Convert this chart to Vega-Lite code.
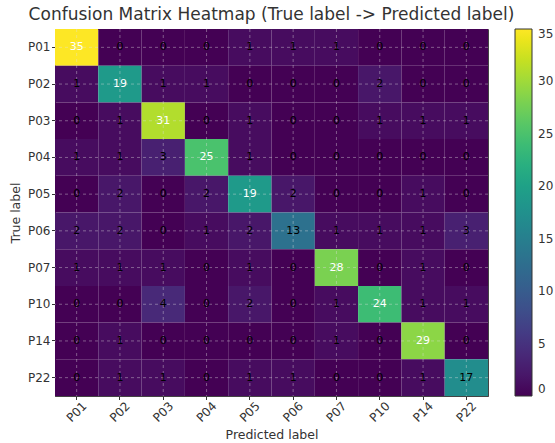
{
  "$schema": "https://vega.github.io/schema/vega-lite/v6.json",
  "autosize": "none",
  "width": 433,
  "height": 367,
  "padding": {"left": 55, "top": 29, "right": 67, "bottom": 47},
  "background": "white",
  "title": {
    "text": "Confusion Matrix Heatmap (True label -> Predicted label)",
    "font": "DejaVu Sans",
    "fontSize": 17,
    "fontWeight": "normal",
    "color": "#333333",
    "anchor": "middle",
    "offset": 5
  },
  "config": {
    "font": "DejaVu Sans",
    "view": {"stroke": "#444444", "strokeWidth": 1},
    "axis": {
      "labelFont": "DejaVu Sans",
      "titleFont": "DejaVu Sans",
      "labelFontSize": 12,
      "titleFontSize": 12.5,
      "titleFontWeight": "normal",
      "labelColor": "#333333",
      "titleColor": "#333333",
      "tickColor": "#333333",
      "domainColor": "#444444",
      "grid": false,
      "tickSize": 3.5,
      "zindex": 1
    }
  },
  "datasets": {
    "cells": [
      {"true": "P01", "pred": "P01", "count": 35},
      {"true": "P01", "pred": "P02", "count": 0},
      {"true": "P01", "pred": "P03", "count": 0},
      {"true": "P01", "pred": "P04", "count": 0},
      {"true": "P01", "pred": "P05", "count": 1},
      {"true": "P01", "pred": "P06", "count": 1},
      {"true": "P01", "pred": "P07", "count": 1},
      {"true": "P01", "pred": "P10", "count": 0},
      {"true": "P01", "pred": "P14", "count": 0},
      {"true": "P01", "pred": "P22", "count": 0},
      {"true": "P02", "pred": "P01", "count": 1},
      {"true": "P02", "pred": "P02", "count": 19},
      {"true": "P02", "pred": "P03", "count": 1},
      {"true": "P02", "pred": "P04", "count": 1},
      {"true": "P02", "pred": "P05", "count": 0},
      {"true": "P02", "pred": "P06", "count": 0},
      {"true": "P02", "pred": "P07", "count": 0},
      {"true": "P02", "pred": "P10", "count": 2},
      {"true": "P02", "pred": "P14", "count": 0},
      {"true": "P02", "pred": "P22", "count": 0},
      {"true": "P03", "pred": "P01", "count": 0},
      {"true": "P03", "pred": "P02", "count": 1},
      {"true": "P03", "pred": "P03", "count": 31},
      {"true": "P03", "pred": "P04", "count": 0},
      {"true": "P03", "pred": "P05", "count": 1},
      {"true": "P03", "pred": "P06", "count": 0},
      {"true": "P03", "pred": "P07", "count": 0},
      {"true": "P03", "pred": "P10", "count": 1},
      {"true": "P03", "pred": "P14", "count": 1},
      {"true": "P03", "pred": "P22", "count": 1},
      {"true": "P04", "pred": "P01", "count": 1},
      {"true": "P04", "pred": "P02", "count": 1},
      {"true": "P04", "pred": "P03", "count": 3},
      {"true": "P04", "pred": "P04", "count": 25},
      {"true": "P04", "pred": "P05", "count": 1},
      {"true": "P04", "pred": "P06", "count": 0},
      {"true": "P04", "pred": "P07", "count": 0},
      {"true": "P04", "pred": "P10", "count": 0},
      {"true": "P04", "pred": "P14", "count": 0},
      {"true": "P04", "pred": "P22", "count": 0},
      {"true": "P05", "pred": "P01", "count": 0},
      {"true": "P05", "pred": "P02", "count": 2},
      {"true": "P05", "pred": "P03", "count": 0},
      {"true": "P05", "pred": "P04", "count": 2},
      {"true": "P05", "pred": "P05", "count": 19},
      {"true": "P05", "pred": "P06", "count": 2},
      {"true": "P05", "pred": "P07", "count": 0},
      {"true": "P05", "pred": "P10", "count": 0},
      {"true": "P05", "pred": "P14", "count": 1},
      {"true": "P05", "pred": "P22", "count": 0},
      {"true": "P06", "pred": "P01", "count": 2},
      {"true": "P06", "pred": "P02", "count": 2},
      {"true": "P06", "pred": "P03", "count": 0},
      {"true": "P06", "pred": "P04", "count": 1},
      {"true": "P06", "pred": "P05", "count": 2},
      {"true": "P06", "pred": "P06", "count": 13},
      {"true": "P06", "pred": "P07", "count": 1},
      {"true": "P06", "pred": "P10", "count": 1},
      {"true": "P06", "pred": "P14", "count": 1},
      {"true": "P06", "pred": "P22", "count": 3},
      {"true": "P07", "pred": "P01", "count": 1},
      {"true": "P07", "pred": "P02", "count": 1},
      {"true": "P07", "pred": "P03", "count": 1},
      {"true": "P07", "pred": "P04", "count": 0},
      {"true": "P07", "pred": "P05", "count": 1},
      {"true": "P07", "pred": "P06", "count": 0},
      {"true": "P07", "pred": "P07", "count": 28},
      {"true": "P07", "pred": "P10", "count": 0},
      {"true": "P07", "pred": "P14", "count": 1},
      {"true": "P07", "pred": "P22", "count": 0},
      {"true": "P10", "pred": "P01", "count": 0},
      {"true": "P10", "pred": "P02", "count": 0},
      {"true": "P10", "pred": "P03", "count": 4},
      {"true": "P10", "pred": "P04", "count": 0},
      {"true": "P10", "pred": "P05", "count": 2},
      {"true": "P10", "pred": "P06", "count": 0},
      {"true": "P10", "pred": "P07", "count": 1},
      {"true": "P10", "pred": "P10", "count": 24},
      {"true": "P10", "pred": "P14", "count": 1},
      {"true": "P10", "pred": "P22", "count": 1},
      {"true": "P14", "pred": "P01", "count": 0},
      {"true": "P14", "pred": "P02", "count": 1},
      {"true": "P14", "pred": "P03", "count": 0},
      {"true": "P14", "pred": "P04", "count": 0},
      {"true": "P14", "pred": "P05", "count": 0},
      {"true": "P14", "pred": "P06", "count": 0},
      {"true": "P14", "pred": "P07", "count": 1},
      {"true": "P14", "pred": "P10", "count": 0},
      {"true": "P14", "pred": "P14", "count": 29},
      {"true": "P14", "pred": "P22", "count": 0},
      {"true": "P22", "pred": "P01", "count": 0},
      {"true": "P22", "pred": "P02", "count": 1},
      {"true": "P22", "pred": "P03", "count": 1},
      {"true": "P22", "pred": "P04", "count": 0},
      {"true": "P22", "pred": "P05", "count": 1},
      {"true": "P22", "pred": "P06", "count": 1},
      {"true": "P22", "pred": "P07", "count": 0},
      {"true": "P22", "pred": "P10", "count": 0},
      {"true": "P22", "pred": "P14", "count": 1},
      {"true": "P22", "pred": "P22", "count": 17}
    ],
    "labels": [
      {"true": "P01", "pred": "P01"},
      {"true": "P02", "pred": "P02"},
      {"true": "P03", "pred": "P03"},
      {"true": "P04", "pred": "P04"},
      {"true": "P05", "pred": "P05"},
      {"true": "P06", "pred": "P06"},
      {"true": "P07", "pred": "P07"},
      {"true": "P10", "pred": "P10"},
      {"true": "P14", "pred": "P14"},
      {"true": "P22", "pred": "P22"}
    ]
  },
  "layer": [
    {
      "data": {"name": "cells"},
      "mark": {"type": "rect"},
      "encoding": {
        "x": {
          "field": "pred",
          "type": "nominal",
          "sort": ["P01", "P02", "P03", "P04", "P05", "P06", "P07", "P10", "P14", "P22"],
          "scale": {"paddingInner": 0, "paddingOuter": 0},
          "axis": {
            "title": "Predicted label",
            "bandPosition": 0.5,
            "labelAngle": -45,
            "labelAlign": "center",
            "labelBaseline": "middle",
            "labelPadding": 12,
            "titlePadding": 5
          }
        },
        "y": {
          "field": "true",
          "type": "nominal",
          "sort": ["P01", "P02", "P03", "P04", "P05", "P06", "P07", "P10", "P14", "P22"],
          "scale": {"paddingInner": 0, "paddingOuter": 0},
          "axis": {"title": "True label", "bandPosition": 0.5, "labelPadding": 1.5, "titlePadding": 5}
        },
        "color": {
          "field": "count",
          "type": "quantitative",
          "scale": {"scheme": "viridis", "domain": [0, 35]},
          "legend": {
            "title": null,
            "orient": "right",
            "offset": 27,
            "padding": 0,
            "gradientLength": 367,
            "gradientThickness": 17,
            "gradientStrokeColor": "#333333",
            "gradientStrokeWidth": 1,
            "values": [0, 5, 10, 15, 20, 25, 30, 35],
            "labelFont": "DejaVu Sans",
            "labelFontSize": 12,
            "labelColor": "#333333",
            "labelOffset": 6
          }
        }
      }
    },
    {
      "data": {"name": "labels"},
      "mark": {"type": "rule", "color": "#e0e0e0", "opacity": 0.4, "strokeWidth": 1, "strokeDash": [3, 3]},
      "encoding": {
        "x": {"field": "pred", "type": "nominal", "sort": ["P01", "P02", "P03", "P04", "P05", "P06", "P07", "P10", "P14", "P22"]}
      }
    },
    {
      "data": {"name": "labels"},
      "mark": {"type": "rule", "color": "#e0e0e0", "opacity": 0.4, "strokeWidth": 1, "strokeDash": [3, 3]},
      "encoding": {
        "y": {"field": "true", "type": "nominal", "sort": ["P01", "P02", "P03", "P04", "P05", "P06", "P07", "P10", "P14", "P22"]}
      }
    },
    {
      "data": {"name": "cells"},
      "mark": {"type": "text", "font": "DejaVu Sans", "fontSize": 11},
      "encoding": {
        "x": {"field": "pred", "type": "nominal", "sort": ["P01", "P02", "P03", "P04", "P05", "P06", "P07", "P10", "P14", "P22"]},
        "y": {"field": "true", "type": "nominal", "sort": ["P01", "P02", "P03", "P04", "P05", "P06", "P07", "P10", "P14", "P22"]},
        "text": {"field": "count", "type": "quantitative"},
        "color": {
          "condition": {"test": "datum.count > 17.5", "value": "white"},
          "value": "black"
        }
      }
    }
  ]
}
